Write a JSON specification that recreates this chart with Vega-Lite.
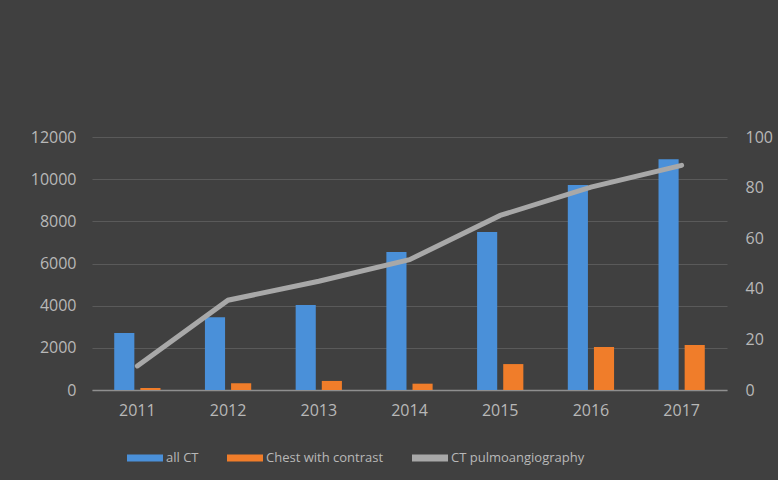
{
  "$schema": "https://vega.github.io/schema/vega-lite/v6.json",
  "width": 635,
  "height": 253,
  "autosize": "none",
  "padding": {"left": 92, "top": 137, "right": 51, "bottom": 90},
  "background": "#404040",
  "config": {
    "view": {"stroke": null, "fill": null},
    "axis": {
      "labelFont": "Open Sans",
      "labelFontSize": 16,
      "labelColor": "#b8b8b8",
      "ticks": false,
      "domain": false,
      "grid": false,
      "title": null
    },
    "legend": {
      "labelFont": "Open Sans",
      "labelFontSize": 13,
      "labelColor": "#b8b8b8"
    }
  },
  "data": {
    "values": [
      {"year": "2011", "series": "all CT", "value": 2700},
      {"year": "2012", "series": "all CT", "value": 3450},
      {"year": "2013", "series": "all CT", "value": 4030},
      {"year": "2014", "series": "all CT", "value": 6550},
      {"year": "2015", "series": "all CT", "value": 7500},
      {"year": "2016", "series": "all CT", "value": 9720},
      {"year": "2017", "series": "all CT", "value": 10950},
      {"year": "2011", "series": "Chest with contrast", "value": 100},
      {"year": "2012", "series": "Chest with contrast", "value": 320},
      {"year": "2013", "series": "Chest with contrast", "value": 430},
      {"year": "2014", "series": "Chest with contrast", "value": 300},
      {"year": "2015", "series": "Chest with contrast", "value": 1230},
      {"year": "2016", "series": "Chest with contrast", "value": 2040},
      {"year": "2017", "series": "Chest with contrast", "value": 2130},
      {"year": "2011", "series": "CT pulmoangiography", "value": 9.5},
      {"year": "2012", "series": "CT pulmoangiography", "value": 35.5},
      {"year": "2013", "series": "CT pulmoangiography", "value": 43},
      {"year": "2014", "series": "CT pulmoangiography", "value": 51.5},
      {"year": "2015", "series": "CT pulmoangiography", "value": 69},
      {"year": "2016", "series": "CT pulmoangiography", "value": 80.2},
      {"year": "2017", "series": "CT pulmoangiography", "value": 88.8}
    ]
  },
  "encoding": {
    "x": {
      "field": "year",
      "type": "nominal",
      "sort": null,
      "scale": {"paddingInner": 0.49, "paddingOuter": 0.245},
      "axis": {"labelAngle": 0, "domain": true, "domainColor": "#8f8f8f", "domainWidth": 1.5, "labelPadding": 12}
    }
  },
  "layer": [
    {
      "transform": [{"filter": "datum.series !== 'CT pulmoangiography'"}],
      "mark": {"type": "bar"},
      "encoding": {
        "xOffset": {
          "field": "series",
          "type": "nominal",
          "scale": {"domain": ["all CT", "Chest with contrast"], "paddingInner": 0.23, "paddingOuter": 0}
        },
        "y": {
          "field": "value",
          "type": "quantitative",
          "scale": {"domain": [0, 12000]},
          "axis": {"values": [0, 2000, 4000, 6000, 8000, 10000, 12000], "format": "d", "grid": true, "gridColor": "#5a5a5a", "gridWidth": 1, "labelPadding": 16}
        },
        "color": {
          "field": "series",
          "type": "nominal",
          "scale": {
            "domain": ["all CT", "Chest with contrast", "CT pulmoangiography"],
            "range": ["#4a90d9", "#f07d2a", "#a8a8a8"]
          },
          "legend": {
            "title": null,
            "orient": "none",
            "direction": "horizontal",
            "legendX": 35,
            "legendY": 303,
            "symbolType": "M-1,-0.2H1V0.2H-1Z",
            "symbolSize": 1296,
            "symbolStrokeWidth": 0,
            "labelOffset": 3,
            "columnPadding": 28
          }
        }
      }
    },
    {
      "transform": [{"filter": "datum.series === 'CT pulmoangiography'"}],
      "mark": {"type": "line", "strokeWidth": 5, "strokeCap": "round"},
      "encoding": {
        "y": {
          "field": "value",
          "type": "quantitative",
          "scale": {"domain": [0, 100]},
          "axis": {"orient": "right", "values": [0, 20, 40, 60, 80, 100], "labelPadding": 18}
        },
        "color": {"field": "series", "type": "nominal"}
      }
    }
  ],
  "resolve": {"scale": {"y": "independent"}}
}
